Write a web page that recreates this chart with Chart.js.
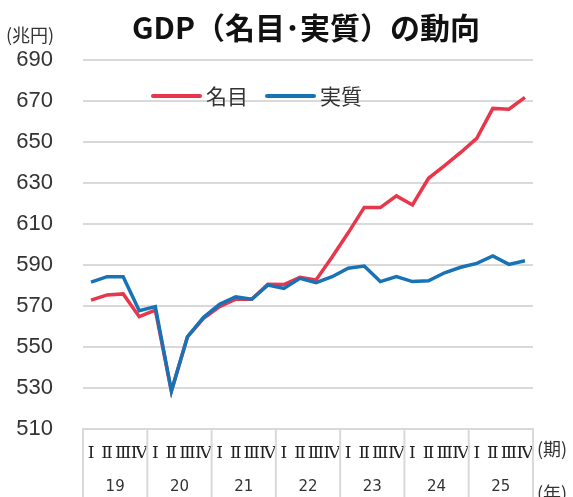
<!DOCTYPE html>
<html lang="ja">
<head>
<meta charset="utf-8">
<title>GDP（名目･実質）の動向</title>
<script src="https://cdn.jsdelivr.net/npm/chart.js@4/dist/chart.umd.min.js"></script>
<style>
  body { margin: 0; background: #fff; }
  #wrap { width: 573px; height: 497px; }
</style>
</head>
<body>
<div id="wrap"><canvas id="gdpChart" width="573" height="497"></canvas></div>
<script>
// 四半期・年
const quarterNames = ['Ⅰ', 'Ⅱ', 'Ⅲ', 'Ⅳ'];
const years = ['19', '20', '21', '22', '23', '24', '25'];
const labels = years.flatMap(() => quarterNames);

// 兆円
const nominal = [572.9, 575.4, 575.9, 564.8, 568.0, 528.5, 555.0, 564.0, 569.7, 573.3, 573.3, 580.6, 580.5, 584.0,
                 582.7, 593.9, 605.7, 618.1, 618.0, 623.7, 619.3, 632.3, 638.5, 644.9, 651.8, 666.4, 666.0, 671.8];
const real = [581.6, 584.3, 584.3, 567.7, 569.7, 528.5, 555.0, 564.5, 570.8, 574.5, 573.3, 580.2, 578.6, 583.5,
              581.4, 584.3, 588.4, 589.5, 581.9, 584.3, 581.9, 582.3, 586.2, 588.9, 590.8, 594.4, 590.3, 592.1];

const yTicks = { min: 510, max: 690, step: 20 };

const RED = '#e8364a';
const BLUE = '#1872b6';
const GRID = '#d9d9d9';
const TEXT = '#333333';
const JP = '"Noto Sans CJK JP", "Noto Sans", sans-serif';

// タイトル・凡例・年の行
const extras = {
    id: 'extras',
    afterDraw(chart) {
        const ctx = chart.ctx;
        const xs = chart.scales.x;
        const area = chart.chartArea;
        ctx.save();

        ctx.fillStyle = '#111';
        ctx.font = 'bold 30px ' + JP;
        ctx.textAlign = 'center';
        ctx.textBaseline = 'middle';
        ctx.fillText('GDP（名目･実質）の動向', 306, 28);

        ctx.fillStyle = TEXT;
        ctx.font = '18px ' + JP;
        ctx.textAlign = 'left';
        ctx.fillText('(兆円)', 6, 35);

        // 凡例
        const items = [
            { ds: chart.data.datasets[0], x: 153 },
            { ds: chart.data.datasets[1], x: 267 }
        ];
        ctx.font = '21px ' + JP;
        ctx.lineCap = 'round';
        items.forEach(it => {
            ctx.strokeStyle = it.ds.borderColor;
            ctx.lineWidth = 4;
            ctx.beginPath();
            ctx.moveTo(it.x, 96);
            ctx.lineTo(it.x + 47, 96);
            ctx.stroke();
            ctx.fillStyle = TEXT;
            ctx.fillText(it.ds.label, it.x + 53, 96);
        });

        // 年の区切りとラベル
        const w = (xs.right - xs.left) / labels.length;
        ctx.strokeStyle = GRID;
        ctx.lineWidth = 2;
        ctx.lineCap = 'butt';
        for (let i = 0; i <= years.length; i++) {
            const x = xs.left + i * 4 * w;
            ctx.beginPath();
            ctx.moveTo(x, area.bottom);
            ctx.lineTo(x, chart.height);
            ctx.stroke();
        }
        ctx.fillStyle = TEXT;
        ctx.font = '15px "DejaVu Sans", sans-serif';
        ctx.textAlign = 'center';
        years.forEach((y, i) => {
            ctx.fillText(y, xs.getPixelForValue(i * 4 + 1.5), 487);
        });

        ctx.font = '18px ' + JP;
        ctx.textAlign = 'left';
        ctx.fillText('(期)', 537, 449);
        ctx.fillText('(年)', 537, 493);
        ctx.restore();
    }
};

new Chart(document.getElementById('gdpChart'), {
    type: 'line',
    data: {
        labels: labels,
        datasets: [
            { label: '名目', data: nominal, borderColor: RED, borderWidth: 3.5, pointRadius: 0, tension: 0, order: 1 },
            { label: '実質', data: real, borderColor: BLUE, borderWidth: 3.5, pointRadius: 0, tension: 0, order: 0 }
        ]
    },
    options: {
        responsive: false,
        animation: false,
        layout: { padding: { top: 60, right: 40, left: 0, bottom: 0 } },
        plugins: {
            legend: { display: false },
            title: { display: false },
            tooltip: { enabled: false }
        },
        scales: {
            x: {
                offset: true,
                grid: { display: false },
                border: { display: true, color: GRID, width: 2 },
                ticks: {
                    autoSkip: false,
                    maxRotation: 0,
                    padding: 6,
                    color: '#222',
                    font: { family: '"DejaVu Serif", "Liberation Serif", serif', size: 17 }
                },
                afterFit: s => { s.height = 68; }
            },
            y: {
                min: yTicks.min,
                max: yTicks.max,
                grid: { color: GRID, lineWidth: 2, drawTicks: false },
                border: { display: false },
                ticks: {
                    stepSize: yTicks.step,
                    padding: 30,
                    color: TEXT,
                    font: { family: '"Liberation Sans", Arial, sans-serif', size: 22 }
                },
                afterFit: s => { s.width = 83; }
            }
        }
    },
    plugins: [extras]
});
</script>
</body>
</html>
